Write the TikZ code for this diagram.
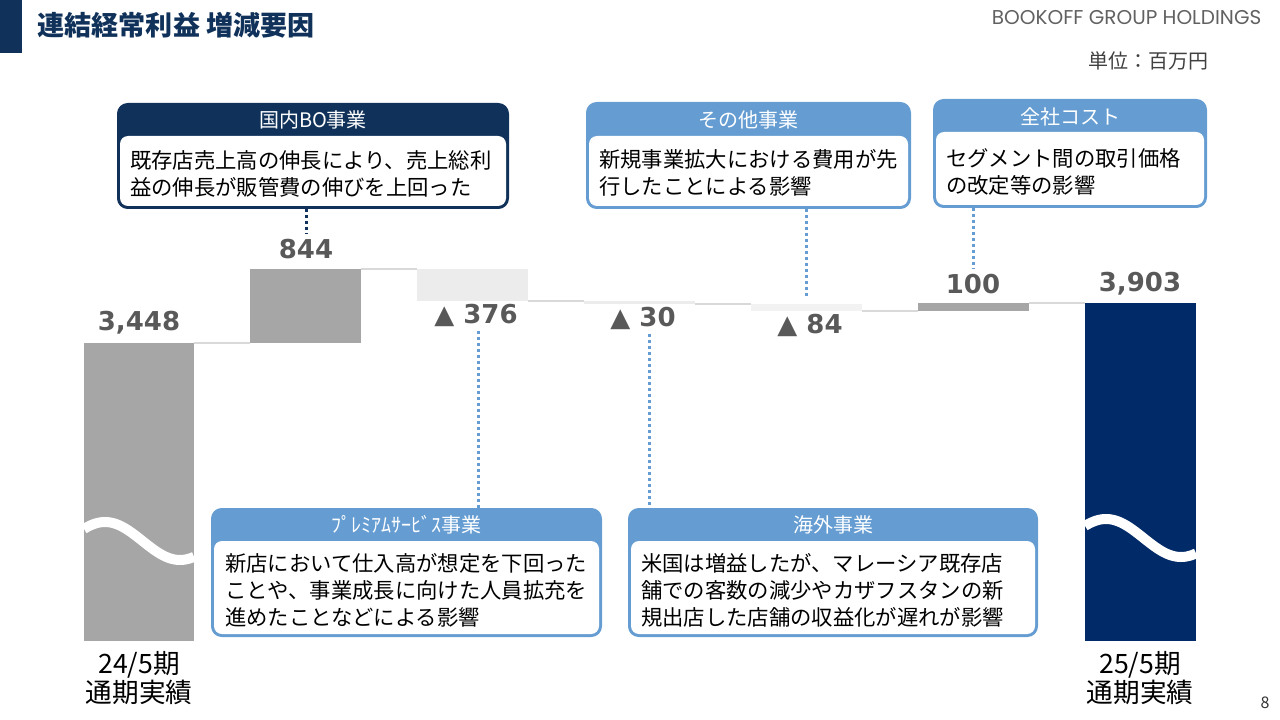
\documentclass[tikz,border=0pt]{standalone}
\usepackage{fontspec}
\setmainfont{Noto Sans CJK JP}
\newfontfamily\numfont{DejaVu Sans}
\newfontfamily\logofont{Poppins}
\usetikzlibrary{fit}

\definecolor{navy}{RGB}{16,50,90}
\definecolor{barnavy}{RGB}{0,42,104}
\definecolor{skyblue}{RGB}{101,157,210}
\definecolor{bargray}{RGB}{166,166,166}
\definecolor{minusgray}{RGB}{236,236,236}
\definecolor{valgray}{RGB}{89,89,89}
\definecolor{levelgray}{RGB}{217,217,217}

\begin{document}
\begin{tikzpicture}[x=0.75pt,y=-0.75pt]

        \tikzset{
            bar/.style={inner sep=0pt, outer sep=0pt, draw=none},
            val/.style={font=\numfont\bfseries\fontsize{19.5}{19.5}\selectfont, text=valgray},
            level/.style={levelgray, line width=1.5pt},
            wave/.style={white, line width=7.5pt},
            box/.style={inner sep=0pt, outer sep=0pt, rounded corners=8pt},
            head/.style={text=white, font=\fontsize{15}{15}\selectfont},
            body/.style={anchor=west, align=left, inner sep=0pt, font=\fontsize{16}{20.25}\selectfont},
            leader/.style={line width=2.25pt, dash pattern=on 2.25pt off 2.25pt},
            axis/.style={align=center, font=\fontsize{20}{20}\selectfont}
        }

        \useasboundingbox (0,0) rectangle (1280,720);

        \fill[navy] (0,0) rectangle (22,53);
        \node[anchor=west, text=navy, font=\bfseries\fontsize{20.3}{20.3}\selectfont] (title) at (33,25) {連結経常利益 増減要因};
        \node[anchor=east, text=black!62, font=\logofont\fontsize{15}{15}\selectfont] (logo) at (1266,18) {BOOKOFF GROUP HOLDINGS};
        \node[anchor=east, text=black!75, font=\fontsize{15}{15}\selectfont] (unit) at (1213,61) {単位：百万円};
        \node[text=black!80, font=\fontsize{12}{12}\selectfont] (page) at (1265,703) {8};

        \node[bar, fill=bargray, fit={(84,343) (194,641)}] (b1) {};
        \node[bar, fill=bargray, fit={(250,269) (361,343)}] (b2) {};
        \node[bar, fill=minusgray, fit={(417,269) (528,301)}] (b3) {};
        \node[bar, fill=minusgray, fit={(584,301) (695,304)}] (b4) {};
        \node[bar, fill=minusgray!70!white, fit={(751,304) (862,311)}] (b5) {};
        \node[bar, fill=bargray, fit={(918,303) (1029,311)}] (b6) {};
        \node[bar, fill=barnavy, fit={(1085,303) (1196,641)}] (b7) {};

        \draw[wave]
        plot[domain=84:194,samples=60]
        (\x, {541+19*cos(2.4*(\x-180))});

        \draw[wave]
        plot[domain=1085:1196,samples=60]
        (\x, {538+19*cos(2.4*(\x-1181))});

        \draw[level] (b1.north east) -- (b2.south west);
        \draw[level] (b2.north east) -- (b3.north west);
        \draw[level] (b3.south east) -- (b4.north west);
        \draw[level] (b4.south east) -- (b5.north west);
        \draw[level] (b5.south east) -- (b6.south west);
        \draw[level] (b6.north east) -- (b7.north west);

        \node[val] (v3448) at (139,323) {3,448};
        \node[val] (v844) at (306,249) {844};
        \node[val] (v376) at (476,315) {▲ 376};
        \node[val] (v30) at (643,318) {▲ 30};
        \node[val] (v84) at (810,325) {▲ 84};
        \node[val] (v100) at (973,284) {100};
        \node[val] (v3903) at (1140,284) {3,903};

        \node[axis] (l24) at (139,678) {24/5期\\通期実績};
        \node[axis] (l25) at (1140,678) {25/5期\\通期実績};

        \node[box, fill=navy, fit={(117,103) (509,209)}] (bo) {};
        \fill[white, rounded corners=6pt] (120,136) rectangle (506,206);
        \node[head] at (313,120) {国内BO事業};
        \node[body] at (130,173.5) {既存店売上高の伸長により、売上総利\\益の伸長が販管費の伸びを上回った};

        \node[box, fill=skyblue, fit={(586,102) (911,209)}] (ot) {};
        \fill[white, rounded corners=6pt] (589,136) rectangle (908,206);
        \node[head] at (748.5,120) {その他事業};
        \node[body] at (599,173) {新規事業拡大における費用が先\\行したことによる影響};

        \node[box, fill=skyblue, fit={(933,99) (1207,208)}] (zs) {};
        \fill[white, rounded corners=6pt] (936,132) rectangle (1204,205);
        \node[head] at (1070,117) {全社コスト};
        \node[body] at (946,172) {セグメント間の取引価格\\の改定等の影響};

        \node[box, fill=skyblue, fit={(211,508) (602,637)}] (pm) {};
        \fill[white, rounded corners=6pt] (214,541) rectangle (599,634);
        \node[head] at (406.5,525) {ﾌﾟﾚﾐｱﾑｻｰﾋﾞｽ事業};
        \node[body] at (225,590) {新店において仕入高が想定を下回った\\ことや、事業成長に向けた人員拡充を\\進めたことなどによる影響};

        \node[box, fill=skyblue, fit={(628,508) (1038,637)}] (kg) {};
        \fill[white, rounded corners=6pt] (631,541) rectangle (1035,634);
        \node[head] at (833,525) {海外事業};
        \node[body] at (641,590) {米国は増益したが、マレーシア既存店\\舗での客数の減少やカザフスタンの新\\規出店した店舗の収益化が遅れが影響};

        \draw[leader, navy] (bo.south -| v844.north) -- (v844.north);
        \draw[leader, skyblue, shorten >=4.5pt] (ot.south -| b5.north) -- (b5.north);
        \draw[leader, skyblue] (zs.south -| v100.north) -- (v100.north);
        \draw[leader, skyblue] ([xshift=2pt]v376.south) -- ([xshift=2pt]v376.south |- pm.north);
        \draw[leader, skyblue] ([xshift=5pt]v30.south) -- ([xshift=5pt]v30.south |- kg.north);

    \end{tikzpicture}
\end{document}
